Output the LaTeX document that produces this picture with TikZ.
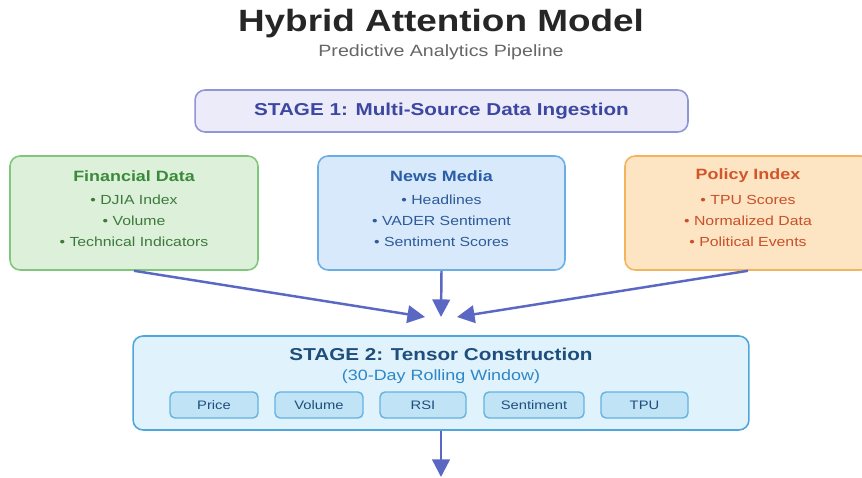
\documentclass[tikz,border=0pt]{standalone}
\usepackage{fontspec}
\setmainfont{Liberation Sans}[FakeStretch=1.2]
\usetikzlibrary{arrows.meta}
\definecolor{arrowblue}{HTML}{5A68C4}
\definecolor{onefill}{HTML}{ECEBF9}
\definecolor{oneline}{HTML}{8F95D6}
\definecolor{onetext}{HTML}{3B47A0}
\definecolor{finfill}{HTML}{DDF0DA}
\definecolor{finline}{HTML}{80C67C}
\definecolor{fintext}{HTML}{3A8A3A}
\definecolor{finitem}{HTML}{3C7A3C}
\definecolor{newsfill}{HTML}{D7E9FB}
\definecolor{newsline}{HTML}{6AAEE6}
\definecolor{newstext}{HTML}{2A5EA6}
\definecolor{newsitem}{HTML}{2D5A9A}
\definecolor{polfill}{HTML}{FDE4C2}
\definecolor{polline}{HTML}{F3B45E}
\definecolor{poltext}{HTML}{D2562A}
\definecolor{politem}{HTML}{C8502A}
\definecolor{twofill}{HTML}{E0F2FB}
\definecolor{twoline}{HTML}{4EA6DC}
\definecolor{twotext}{HTML}{1E4E7E}
\definecolor{twosub}{HTML}{2F86C6}
\definecolor{chipfill}{HTML}{C1E3F6}
\definecolor{chipline}{HTML}{64B3E0}
\begin{document}
\begin{tikzpicture}[x=0.02cm,y=-0.02cm,
    src/.style={draw,line width=0.9pt,rounded corners=0.2cm,minimum height=2.28cm},
    head/.style={font=\fontsize{8.5}{10}\selectfont\bfseries},
    item/.style={font=\fontsize{7.5}{12}\selectfont,align=center},
    chip/.style={draw=chipline,fill=chipfill,line width=0.8pt,rounded corners=0.1cm,
        minimum height=0.52cm,text=twotext,font=\fontsize{7}{8}\selectfont},
    flow/.style={draw=arrowblue,line width=1.4pt,-{Triangle[length=10pt,width=10pt]}}]
    \useasboundingbox[fill=white] (0,0) rectangle (862,477);
    \node[font=\fontsize{17.5}{20}\selectfont\bfseries,text=black!85] (title) at (441,24) {Hybrid Attention Model};
    \node[font=\fontsize{9.3}{11}\selectfont,text=black!60] (subtitle) at (441,52) {Predictive Analytics Pipeline};
    \node[draw=oneline,fill=onefill,line width=0.9pt,rounded corners=0.2cm,minimum width=9.86cm,minimum height=0.84cm,
        text=onetext,font=\fontsize{9.8}{11}\selectfont\bfseries] (stageone) at (441.5,111) {STAGE 1: Multi-Source Data Ingestion};
    \node[src,fill=finfill,draw=finline,minimum width=4.96cm] (fin) at (134,213) {};
    \node[head,text=fintext] (fintitle) at (134,176) {Financial Data};
    \node[item,text=finitem] (finlist) at (134,221) {• DJIA Index\\• Volume\\• Technical Indicators};
    \node[src,fill=newsfill,draw=newsline,minimum width=4.94cm] (news) at (441.5,213) {};
    \node[head,text=newstext] (newstitle) at (441.5,176) {News Media};
    \node[item,text=newsitem] (newslist) at (441.5,221) {• Headlines\\• VADER Sentiment\\• Sentiment Scores};
    \node[src,fill=polfill,draw=polline,minimum width=4.92cm] (policy) at (748,213) {};
    \node[head,text=poltext] (poltitle) at (748,176) {Policy Index};
    \node[item,text=politem] (pollist) at (748,221) {• TPU Scores\\• Normalized Data\\• Political Events};
    \node[draw=twoline,fill=twofill,line width=0.9pt,rounded corners=0.2cm,minimum width=12.32cm,minimum height=1.88cm] (stagetwo) at (441,383) {};
    \node[text=twotext,font=\fontsize{9.8}{11}\selectfont\bfseries] (twotitle) at (441,354) {STAGE 2: Tensor Construction};
    \node[text=twosub,font=\fontsize{8.5}{10}\selectfont] (twosubtitle) at (441,377) {(30-Day Rolling Window)};
    \node[chip,minimum width=1.76cm] (price) at (214,405) {Price};
    \node[chip,minimum width=1.76cm] (volume) at (319,405) {Volume};
    \node[chip,minimum width=1.72cm] (rsi) at (423,405) {RSI};
    \node[chip,minimum width=2.0cm] (sentiment) at (534,405) {Sentiment};
    \node[chip,minimum width=1.74cm] (tpu) at (644.5,405) {TPU};
    \coordinate (joinl) at (425,317);
    \coordinate (joinm) at (441,317);
    \coordinate (joinr) at (457,317);
    \coordinate (exit) at (441,477);
    \draw[flow] (fin.south) -- (joinl);
    \draw[flow] (news.south) -- (joinm);
    \draw[flow] (policy.south) -- (joinr);
    \draw[flow] (stagetwo.south) -- (exit);
\end{tikzpicture}
\end{document}
